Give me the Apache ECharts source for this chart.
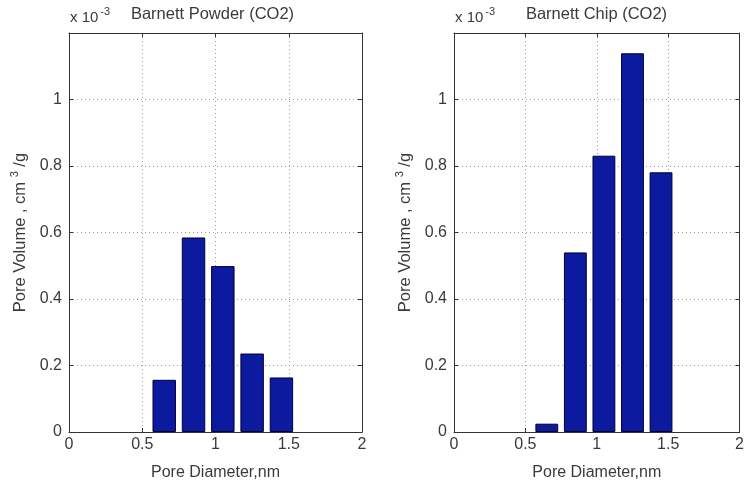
<!DOCTYPE html>
<html>
<head>
<meta charset="utf-8">
<script src="https://cdn.jsdelivr.net/npm/echarts@6/dist/echarts.min.js"></script>
<style>
  html, body { margin: 0; padding: 0; background: #fff; }
  #chart { width: 747px; height: 486px; }
</style>
</head>
<body>
<div id="chart"></div>
<script>
// Pore size distribution from CO2 adsorption (values in units of 1e-3 cm^3/g)
const poreDiameters = [0.65, 0.85, 1.05, 1.25, 1.45];
const powderVolumes = [0.157, 0.585, 0.499, 0.236, 0.164];
const chipVolumes = [0.025, 0.540, 0.831, 1.139, 0.781];
const panelTitles = ['Barnett Powder (CO2)', 'Barnett Chip (CO2)'];
const xTicks = [0, 0.5, 1, 1.5, 2];
const yTicks = [0, 0.2, 0.4, 0.6, 0.8, 1];

const FONT = 'Liberation Sans, Arial, sans-serif';
const TEXT = '#3a3a3a';
const BAR = '#0b1a9e';

const grids = [
  { left: 69, top: 33, width: 293, height: 402 },
  { left: 454, top: 33, width: 291, height: 402 }
];

const gridLine = { show: true, lineStyle: { color: '#9a9a9a', type: [1, 3], width: 1 } };
const frameLine = { show: true, onZero: false, lineStyle: { color: '#333', width: 1 } };
const innerTick = { show: true, inside: true, length: 4, lineStyle: { color: '#333' } };

function fmt(v) { return String(+v.toFixed(2)); }

const xAxes = [], yAxes = [], series = [], graphics = [];
const seriesData = [powderVolumes, chipVolumes];

grids.forEach((g, i) => {
  // bottom x axis with labels
  xAxes.push({
    type: 'value', gridIndex: i, min: xTicks[0], max: xTicks[xTicks.length - 1], interval: 0.5,
    position: 'bottom',
    axisLine: frameLine,
    axisTick: innerTick,
    axisLabel: { color: TEXT, fontSize: 16, fontFamily: FONT, margin: 5, formatter: fmt },
    splitLine: gridLine,
    name: 'Pore Diameter,nm', nameLocation: 'middle', nameGap: 33,
    nameTextStyle: { color: TEXT, fontSize: 16, fontFamily: FONT }
  });
  // top frame edge
  xAxes.push({
    type: 'value', gridIndex: i, min: 0, max: 2, interval: 0.5, position: 'top',
    axisLine: frameLine,
    axisTick: innerTick,
    axisLabel: { show: false }, splitLine: { show: false }
  });
  // left y axis with labels
  yAxes.push({
    type: 'value', gridIndex: i, min: 0, max: 1.2, interval: 0.2, position: 'left',
    axisLine: frameLine,
    axisTick: innerTick,
    axisLabel: {
      color: TEXT, fontSize: 16, fontFamily: FONT, margin: 7,
      formatter: v => (yTicks.some(t => Math.abs(t - v) < 1e-6) ? fmt(v) : '')
    },
    splitLine: gridLine,
    name: '{a|Pore Volume , cm }{s|3}{a| /g}', nameLocation: 'middle', nameGap: 40,
    nameTextStyle: {
      color: TEXT, fontFamily: FONT,
      rich: {
        a: { fontSize: 16.5, color: TEXT, fontFamily: FONT, verticalAlign: 'bottom' },
        s: { fontSize: 11, color: TEXT, fontFamily: FONT, verticalAlign: 'bottom', padding: [0, 0, 9, 0] }
      }
    }
  });
  // right frame edge
  yAxes.push({
    type: 'value', gridIndex: i, min: 0, max: 1.2, interval: 0.2, position: 'right',
    axisLine: frameLine,
    axisTick: innerTick,
    axisLabel: { show: false }, splitLine: { show: false }
  });

  series.push({
    type: 'bar', xAxisIndex: i * 2, yAxisIndex: i * 2,
    data: poreDiameters.map((d, k) => [d, seriesData[i][k]]),
    barWidth: '80%',
    itemStyle: { color: BAR, borderColor: '#000033', borderWidth: 1 },
    silent: true
  });

  // exponent marker and panel title
  graphics.push({
    type: 'text', left: g.left + 1, top: 6,
    style: {
      text: '{a|x 10}{s|-3}',
      rich: {
        a: { fontSize: 15, fill: TEXT, fontFamily: FONT, verticalAlign: 'bottom' },
        s: { fontSize: 11, fill: TEXT, fontFamily: FONT, verticalAlign: 'bottom', padding: [0, 0, 8, 2] }
      }
    }
  });
  graphics.push({
    type: 'text', x: g.left + g.width / 2 - 3, y: 6,
    style: { text: panelTitles[i], fontSize: 16.5, fill: TEXT, fontFamily: FONT, textAlign: 'center' }
  });
});

const chart = echarts.init(document.getElementById('chart'), null, { renderer: 'canvas' });
chart.setOption({
  backgroundColor: '#fff',
  animation: false,
  grid: grids,
  xAxis: xAxes,
  yAxis: yAxes,
  series: series,
  graphic: graphics
});
</script>
</body>
</html>
